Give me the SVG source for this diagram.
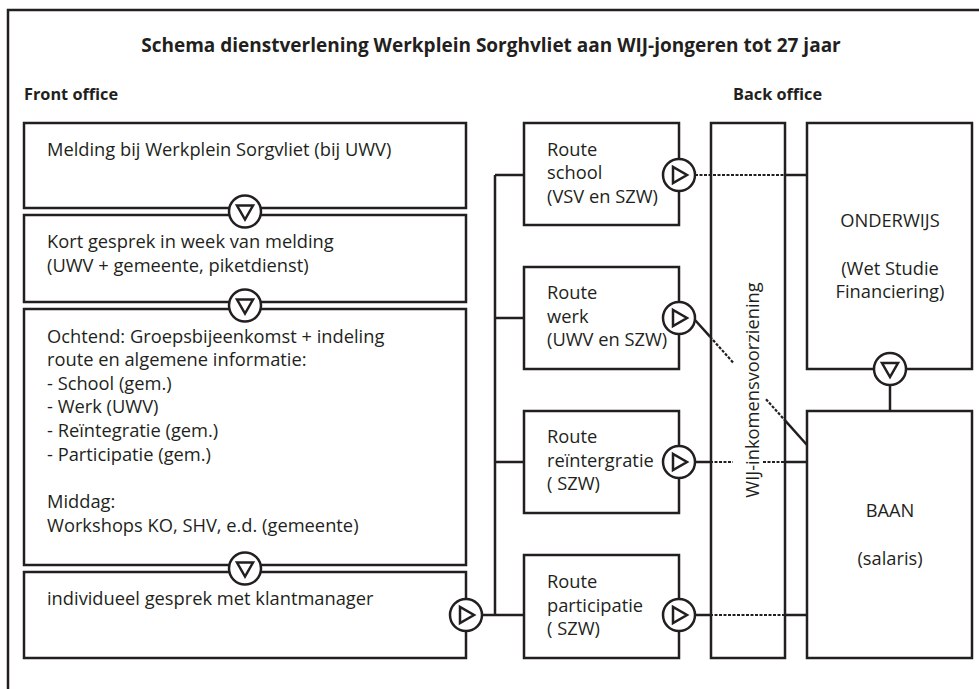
<svg xmlns="http://www.w3.org/2000/svg" width="979" height="689" viewBox="0 0 979 689">
<style>
.box{fill:#fff;stroke:#231f20;stroke-width:2.5}
.ln{fill:none;stroke:#231f20;stroke-width:2.5}
.dot{fill:none;stroke:#231f20;stroke-width:2.2;stroke-dasharray:3 1.5}
.circ{fill:#fff;stroke:#231f20;stroke-width:2.5}
.tri{fill:none;stroke:#231f20;stroke-width:2.5;stroke-linejoin:miter}
text{font-family:"Open Sans","Noto Sans",sans-serif;font-size:18.3px;fill:#231f20}
.b{font-weight:bold}
.m{text-anchor:middle}
</style>
<defs>
<g id="down"><circle class="circ" r="16"/><path class="tri" d="M-8,-6 L8,-6 L0,8 Z"/></g>
<g id="right"><circle class="circ" r="16"/><path class="tri" d="M-6,-8 L-6,8 L8,0 Z"/></g>
</defs>
<rect width="979" height="689" fill="#fff"/>
<path class="ln" d="M8,689 L8,10 L979,10"/>
<text class="b m" x="491" y="52" style="font-size:19px">Schema dienstverlening Werkplein Sorghvliet aan WIJ-jongeren tot 27 jaar</text>
<text class="b" x="24" y="100" style="font-size:16.3px">Front office</text>
<text class="b" x="733" y="100" style="font-size:16.3px">Back office</text>

<g id="connectors">
<path class="ln" d="M495,175 L495,615 M482,615 L524,615 M495,175 L524,175 M495,318 L524,318 M495,462 L524,462"/>
<path class="dot" d="M695,175 L785,175"/>
<path class="ln" d="M785,175 L807,175"/>
<path class="ln" d="M695,320 L710,336.7 M785,420.4 L807,445"/>
<path class="dot" d="M710,336.7 L733,362.4 M766,399.2 L785,420.4"/>
<path class="ln" d="M695,462 L710,462 M785,462 L807,462"/>
<path class="dot" d="M710,462 L733,462 M763,462 L785,462"/>
<path class="ln" d="M695,615 L710,615 M785,615 L807,615"/>
<path class="dot" d="M710,615 L785,615"/>
<path class="ln" d="M890,385 L890,411"/>
</g>

<g id="melding"><rect class="box" x="24" y="123" width="442" height="85"/><text x="47" y="156">Melding bij Werkplein Sorgvliet (bij UWV)</text></g>
<g id="kort"><rect class="box" x="24" y="215" width="442" height="87"/><text x="47" y="248">Kort gesprek in week van melding</text><text x="47" y="272">(UWV + gemeente, piketdienst)</text></g>
<g id="ochtend"><rect class="box" x="24" y="309" width="442" height="256"/>
<text x="47" y="343">Ochtend: Groepsbijeenkomst + indeling</text>
<text x="47" y="366">route en algemene informatie:</text>
<text x="47" y="390">- School (gem.)</text>
<text x="47" y="413">- Werk (UWV)</text>
<text x="47" y="437">- Reïntegratie (gem.)</text>
<text x="47" y="461">- Participatie (gem.)</text>
<text x="47" y="508">Middag:</text>
<text x="47" y="532">Workshops KO, SHV, e.d. (gemeente)</text></g>
<g id="individueel"><rect class="box" x="24" y="572" width="442" height="86"/><text x="47" y="605">individueel gesprek met klantmanager</text></g>

<g id="route-school"><rect class="box" x="524" y="123" width="155" height="102"/><text x="547" y="156">Route</text><text x="547" y="179">school</text><text x="547" y="203">(VSV en SZW)</text></g>
<g id="route-werk"><rect class="box" x="524" y="267" width="155" height="102"/><text x="547" y="299">Route</text><text x="547" y="323">werk</text><text x="547" y="346">(UWV en SZW)</text></g>
<g id="route-reintegratie"><rect class="box" x="524" y="411" width="155" height="102"/><text x="547" y="443">Route</text><text x="547" y="467">reïntergratie</text><text x="547" y="490">( SZW)</text></g>
<g id="route-participatie"><rect class="box" x="524" y="555" width="155" height="103"/><text x="547" y="588">Route</text><text x="547" y="612">participatie</text><text x="547" y="635">( SZW)</text></g>

<g id="wij"><rect class="box" x="711" y="123" width="74" height="535" style="fill:none"/><text class="m" transform="translate(759,390) rotate(-90)">WIJ-inkomensvoorziening</text></g>
<g id="onderwijs"><rect class="box" x="807" y="123" width="165" height="246"/><text class="m" x="890" y="227">ONDERWIJS</text><text class="m" x="890" y="275">(Wet Studie</text><text class="m" x="890" y="298">Financiering)</text></g>
<g id="baan"><rect class="box" x="807" y="411" width="165" height="247"/><text class="m" x="890" y="517">BAAN</text><text class="m" x="890" y="565">(salaris)</text></g>

<g id="arrows">
<use href="#down" x="245" y="211.5"/>
<use href="#down" x="245" y="305.5"/>
<use href="#down" x="245" y="568.5"/>
<use href="#right" x="466" y="615"/>
<use href="#right" x="679" y="175"/>
<use href="#right" x="679" y="318"/>
<use href="#right" x="679" y="462"/>
<use href="#right" x="679" y="615"/>
<use href="#down" x="890" y="369"/>
</g>
</svg>
